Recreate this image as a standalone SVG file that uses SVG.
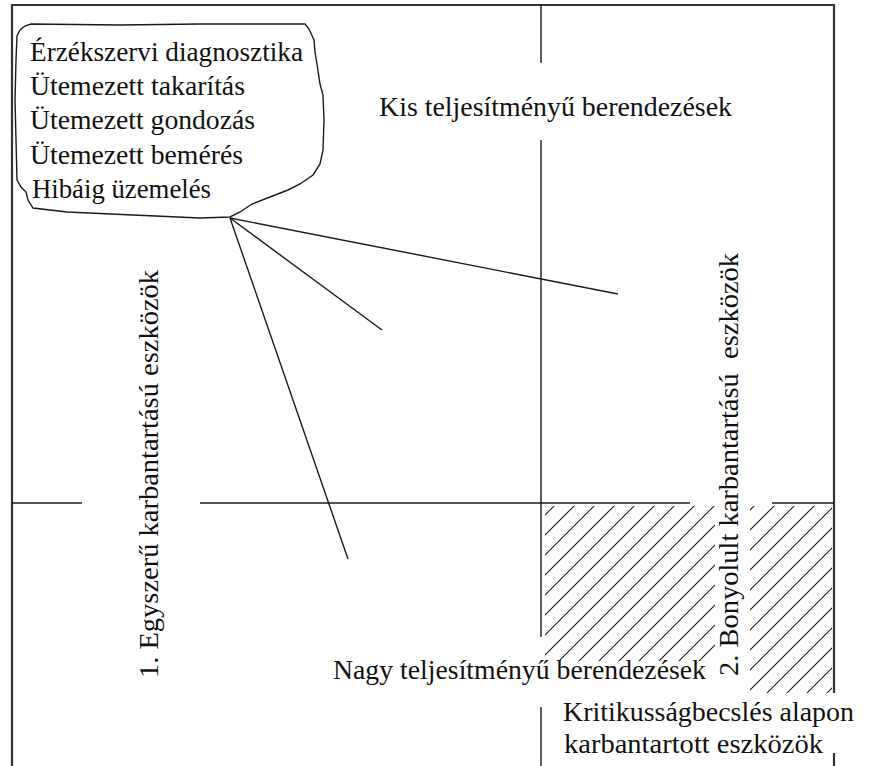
<svg xmlns="http://www.w3.org/2000/svg" width="872" height="766" viewBox="0 0 872 766">
<style>
  .t { font-family: "Liberation Serif", "Times New Roman", serif; font-size: 27.5px; fill: #111; }
  .ln { stroke: #1a1a1a; stroke-width: 1.4; fill: none; }
  .fr { stroke: #333; stroke-width: 2.2; fill: none; }
  .cn { stroke: #1a1a1a; stroke-width: 1.4; fill: none; }
</style>
<defs>
  <pattern id="hatch" patternUnits="userSpaceOnUse" width="20" height="20">
    <path d="M-5,5 L5,-5 M0,20 L20,0 M15,25 L25,15" stroke="#1a1a1a" stroke-width="1.1"/>
  </pattern>
</defs>
<rect x="0" y="0" width="872" height="766" fill="#ffffff"/>

<g id="frame">
  <path class="fr" d="M12,766 L12,5 L834,5 L834,693"/>
  <path class="fr" d="M834,753 L834,766"/>
</g>

<g id="axes">
  <path class="ln" d="M541,5 L541,63"/>
  <path class="ln" d="M541,140 L541,637"/>
  <path class="ln" d="M541,707 L541,766"/>
  <path class="ln" d="M12,503 L82,503"/>
  <path class="ln" d="M200,503 L690,503"/>
  <path class="ln" d="M772,503 L834,503"/>
</g>

<g id="hatched-area">
  <rect x="545" y="506" width="170" height="155" fill="url(#hatch)"/>
  <rect x="750" y="506" width="82" height="187" fill="url(#hatch)"/>
</g>

<g id="cloud">
  <path class="ln" stroke-width="1.6" d="M17,36 L20,30 L25,26 L31,24 L120,25 L200,24 L305,24 L309,29 L314,40 L315,52 L317,64 L320,84 L323,95 L324,120 L323,150 L320,164 L313,175 L300,184 L288,190 L270,197 L252,204 L240,212 L230,217 L200,218 L133,215 L67,212 L33,208 L28,200 L26,192 L21,187 L17,180 L16,140 L15,100 L16,60 Z"/>
  <text class="t" x="30" y="61" textLength="273" lengthAdjust="spacingAndGlyphs">Érzékszervi diagnosztika</text>
  <text class="t" x="30" y="95" textLength="215" lengthAdjust="spacingAndGlyphs">Ütemezett takarítás</text>
  <text class="t" x="30" y="129" textLength="225" lengthAdjust="spacingAndGlyphs">Ütemezett gondozás</text>
  <text class="t" x="30" y="164" textLength="213" lengthAdjust="spacingAndGlyphs">Ütemezett bemérés</text>
  <text class="t" x="32" y="198" textLength="179" lengthAdjust="spacingAndGlyphs">Hibáig üzemelés</text>
</g>

<g id="label-kis">
  <text class="t" x="379" y="116" textLength="353" lengthAdjust="spacingAndGlyphs">Kis teljesítményű berendezések</text>
</g>

<g id="label-nagy">
  <text class="t" x="333" y="679" textLength="373" lengthAdjust="spacingAndGlyphs">Nagy teljesítményű berendezések</text>
</g>

<g id="label-egyszeru">
  <text class="t" transform="translate(158,678) rotate(-90)" x="0" y="0" textLength="408" lengthAdjust="spacingAndGlyphs">1. Egyszerű karbantartású eszközök</text>
</g>

<g id="label-bonyolult">
  <text class="t" xml:space="preserve" transform="translate(738,676) rotate(-90)" x="0" y="0" textLength="423" lengthAdjust="spacingAndGlyphs">2. Bonyolult karbantartású  eszközök</text>
</g>

<g id="label-kritikus">
  <text class="t" x="563" y="721" textLength="291" lengthAdjust="spacingAndGlyphs">Kritikusságbecslés alapon</text>
  <text class="t" x="564" y="753" textLength="259" lengthAdjust="spacingAndGlyphs">karbantartott eszközök</text>
</g>

<g id="connectors">
  <path class="cn" d="M230,218 L618,294"/>
  <path class="cn" d="M230,218 L382,330"/>
  <path class="cn" d="M230,218 L348,559"/>
</g>
</svg>
